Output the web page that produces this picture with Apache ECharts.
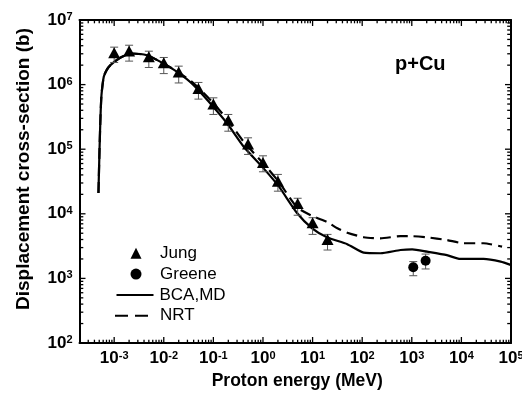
<!DOCTYPE html>
<html><head><meta charset="utf-8">
<script src="https://cdn.jsdelivr.net/npm/echarts@6/dist/echarts.min.js"></script>
<style>html,body{margin:0;padding:0;background:#fff}#c{width:522px;height:404px}</style>
</head><body><div id="c"></div>
<script>
// Jung (triangles) with error bars
const jungE  = [1e-3, 2e-3, 5e-3, 1e-2, 2e-2, 5e-2, 0.1, 0.2, 0.5, 1, 2, 5, 10, 20];
const jungY  = [3.1e6, 3.3e6, 2.7e6, 2.17e6, 1.57e6, 8.7e5, 5.0e5, 2.8e5, 1.2e5, 6.25e4, 3.2e4, 1.45e4, 7.3e3, 4.0e3];
const jungHi = [3.8e6, 4.07e6, 3.29e6, 2.63e6, 1.93e6, 1.08e6, 6.24e5, 3.45e5, 1.5e5, 7.9e4, 4.07e4, 1.74e4, 8.7e3, 4.8e3];
const jungLo = [2.2e6, 2.31e6, 1.84e6, 1.48e6, 1.06e6, 5.96e5, 3.45e5, 1.9e5, 8.3e4, 4.47e4, 2.24e4, 9.5e3, 4.8e3, 2.75e3];
// Greene (circles) with error bars
const greeneE  = [1.07e3, 1.9e3];
const greeneY  = [1.49e3, 1.88e3];
const greeneHi = [1.82e3, 2.38e3];
const greeneLo = [1.1e3, 1.4e3];
// BCA,MD (solid line)
const bcaE = [4.82e-4, 5.06e-4, 5.3e-4, 5.55e-4, 6.17e-4, 7.0e-4, 8.4e-4, 1.35e-3, 2.3e-3, 4.6e-3, 8.6e-3, 1.86e-2, 4.0e-2, 8.7e-2, 0.19, 0.41, 1.04, 2.1, 4.9, 9.8, 19.5, 50, 107, 234, 589, 1.02e3, 2.04e3, 5.1e3, 9.5e3, 2.8e4, 6.2e4, 9.8e4];
const bcaY = [2.1e4, 9.5e4, 3.2e5, 6.9e5, 1.32e6, 1.66e6, 2.0e6, 2.63e6, 3.03e6, 2.85e6, 2.25e6, 1.57e6, 9.8e5, 5.1e5, 2.5e5, 1.09e5, 5.0e4, 2.63e4, 1.02e4, 5.96e3, 4.33e3, 3.39e3, 2.51e3, 2.45e3, 2.75e3, 2.82e3, 2.59e3, 2.29e3, 2.0e3, 2.0e3, 1.82e3, 1.62e3];
// NRT (dashed line)
const nrtE = [4.82e-4, 5.06e-4, 5.3e-4, 5.55e-4, 6.17e-4, 7.0e-4, 8.4e-4, 1.35e-3, 2.3e-3, 4.6e-3, 8.6e-3, 1.86e-2, 4.0e-2, 8.7e-2, 0.19, 0.41, 1.04, 2.1, 4.9, 10.7, 19.5, 31.6, 50, 107, 234, 589, 1.0e3, 2.0e3, 5.1e3, 1.1e4, 2.8e4, 6.6e4];
const nrtY = [2.1e4, 9.5e4, 3.2e5, 6.9e5, 1.32e6, 1.66e6, 2.0e6, 2.63e6, 3.03e6, 2.85e6, 2.25e6, 1.6e6, 1.05e6, 5.8e5, 2.9e5, 1.3e5, 5.9e4, 3.1e4, 1.25e4, 9.0e3, 7.5e3, 5.96e3, 5.1e3, 4.33e3, 4.17e3, 4.5e3, 4.5e3, 4.33e3, 3.93e3, 3.5e3, 3.5e3, 3.1e3];
// Axis range and tick labels
const xMin = 2e-4, xMax = 1e5, yMin = 1e2, yMax = 1e7;
const xMajor = [1e-3, 1e-2, 1e-1, 1, 1e1, 1e2, 1e3, 1e4, 1e5];
const yMajor = [1e2, 1e3, 1e4, 1e5, 1e6, 1e7];
const minorMult = [2, 3, 4, 5, 6, 7, 8, 9];

function minorTicks(lo, hi) {
  const out = [];
  for (let d = Math.floor(Math.log10(lo)); d < Math.ceil(Math.log10(hi)); d++) {
    minorMult.forEach(m => { const v = m * Math.pow(10, d); if (v > lo * 1.0001 && v < hi * 0.9999) out.push(v); });
  }
  return out;
}
const xMinor = minorTicks(xMin, xMax);
const yMinor = minorTicks(yMin, yMax);

const FONT = '"Liberation Sans", Arial, Helvetica, sans-serif';
const expFmt = v => '{b|10}{s|' + Math.round(Math.log10(v)) + '}';
const rich = {
  b: {fontSize: 17, lineHeight: 17, fontWeight: 'bold', fontFamily: FONT, color: '#000', padding: [3, 0, 0, 0], verticalAlign: 'bottom'},
  s: {fontSize: 11, lineHeight: 11, fontWeight: 'bold', fontFamily: FONT, color: '#000', verticalAlign: 'top'}
};
const line = {show: true, onZero: false, lineStyle: {color: '#000', width: 2}};

function xAx(pos, withLabel) {
  return {
    type: 'log', logBase: 10, min: xMin, max: xMax, position: pos,
    axisLine: line, splitLine: {show: false}, axisTick: {show: false},
    axisLabel: withLabel ? {show: true, margin: 7, formatter: expFmt, rich: rich, customValues: xMajor} : {show: false},
    name: withLabel ? 'Proton energy (MeV)' : '', nameLocation: 'middle', nameGap: 25,
    nameTextStyle: {fontSize: 17.5, fontWeight: 'bold', fontFamily: FONT, color: '#000', padding: [0, 0, 0, 4]}
  };
}
function yAx(pos, withLabel) {
  return {
    type: 'log', logBase: 10, min: yMin, max: yMax, position: pos,
    axisLine: line, splitLine: {show: false}, axisTick: {show: false},
    axisLabel: withLabel ? {show: true, margin: 7, formatter: expFmt, rich: rich, customValues: yMajor} : {show: false},
    name: withLabel ? 'Displacement cross-section (b)' : '', nameLocation: 'middle', nameGap: 46,
    nameTextStyle: {fontSize: 19, fontWeight: 'bold', fontFamily: FONT, color: '#000', padding: [0, 0, 0, 25]}
  };
}

// ticks on all four sides, pointing inward, positioned through the axes' own scales
// data: [x value, y value, length, side(0 = x-axis tick, 1 = y-axis tick)]
function renderTick(params, api) {
  const side = api.value(3);
  const len = api.value(2);
  const lo = api.coord([xMin, yMin]);
  const hi = api.coord([xMax, yMax]);
  const p = api.coord([api.value(0), api.value(1)]);
  let a, b;
  if (side === 0) {
    a = {x1: p[0], y1: lo[1], x2: p[0], y2: lo[1] - len};
    b = {x1: p[0], y1: hi[1], x2: p[0], y2: hi[1] + len};
  } else {
    a = {x1: lo[0], y1: p[1], x2: lo[0] + len, y2: p[1]};
    b = {x1: hi[0], y1: p[1], x2: hi[0] - len, y2: p[1]};
  }
  return {type: 'group', children: [
    {type: 'line', shape: a, style: {stroke: '#000', lineWidth: 1.3}},
    {type: 'line', shape: b, style: {stroke: '#000', lineWidth: 1.3}}
  ]};
}
const tickData = []
  .concat(xMajor.map(v => [v, yMin, 6, 0]))
  .concat(xMinor.map(v => [v, yMin, 3.3, 0]))
  .concat(yMajor.map(v => [xMin, v, 6, 1]))
  .concat(yMinor.map(v => [xMin, v, 3.8, 1]));

function errBars(E, Lo, Hi) { return E.map((e, i) => [e, Lo[i], Hi[i]]); }
function renderErr(params, api) {
  const x = api.value(0);
  const p1 = api.coord([x, api.value(1)]);
  const p2 = api.coord([x, api.value(2)]);
  const w = 4;
  const st = {stroke: '#555', lineWidth: 1};
  return {type: 'group', children: [
    {type: 'line', shape: {x1: p1[0], y1: p1[1], x2: p2[0], y2: p2[1]}, style: st},
    {type: 'line', shape: {x1: p1[0] - w, y1: p1[1], x2: p1[0] + w, y2: p1[1]}, style: st},
    {type: 'line', shape: {x1: p2[0] - w, y1: p2[1], x2: p2[0] + w, y2: p2[1]}, style: st}
  ]};
}

const legendText = {fontSize: 17, fontFamily: FONT, color: '#000'};
const chart = echarts.init(document.getElementById('c'), null, {renderer: 'canvas'});
chart.setOption({
  animation: false,
  backgroundColor: '#fff',
  textStyle: {fontFamily: FONT},
  grid: {left: 79.5, right: 11, top: 20, bottom: 61, containLabel: false, outerBoundsMode: 'none'},
  xAxis: [xAx('bottom', true), xAx('top', false)],
  yAxis: [yAx('left', true), yAx('right', false)],
  legend: [
    {orient: 'vertical', left: 125.5, top: 239.8, itemWidth: 11, itemHeight: 11, itemGap: 3.8, selectedMode: false,
     textStyle: Object.assign({padding: [0, 0, 0, 13.5]}, legendText),
     data: [{name: 'Jung', icon: 'triangle'}, {name: 'Greene', icon: 'circle'}]},
    {orient: 'vertical', left: 111.5, top: 281.5, itemWidth: 37, itemHeight: 2, selectedMode: false, symbolKeepAspect: false,
     textStyle: Object.assign({padding: [0, 0, 0, 1]}, legendText),
     data: [{name: 'BCA,MD', icon: 'path://M0 0H37V2H0Z'}]},
    {orient: 'vertical', left: 110, top: 302.2, itemWidth: 33, itemHeight: 2, selectedMode: false, symbolKeepAspect: false,
     textStyle: Object.assign({padding: [0, 0, 0, 7]}, legendText),
     data: [{name: 'NRT', icon: 'path://M0 0H13V2H0Z M20 0H33V2H20Z'}]}
  ],
  graphic: [{type: 'text', left: 395, top: 54, style: {text: 'p+Cu', font: 'bold 20px ' + FONT, fill: '#000'}}],
  series: [
    {name: 'NRT', type: 'line', data: nrtE.map((e, i) => [e, nrtY[i]]), showSymbol: false, symbol: 'none', smooth: 0.2,
     lineStyle: {color: '#000', width: 2.2, type: [11, 6]}, itemStyle: {color: '#000'}, z: 2},
    {name: 'BCA,MD', type: 'line', data: bcaE.map((e, i) => [e, bcaY[i]]), showSymbol: false, symbol: 'none', smooth: 0.2,
     lineStyle: {color: '#000', width: 2.2}, itemStyle: {color: '#000'}, z: 3},
    {name: 'JungErr', type: 'custom', renderItem: renderErr, data: errBars(jungE, jungLo, jungHi), z: 4},
    {name: 'GreeneErr', type: 'custom', renderItem: renderErr, data: errBars(greeneE, greeneLo, greeneHi), z: 4},
    {name: 'Jung', type: 'scatter', symbol: 'triangle', symbolSize: [12, 11], data: jungE.map((e, i) => [e, jungY[i]]),
     itemStyle: {color: '#000', opacity: 1}, z: 5},
    {name: 'Greene', type: 'scatter', symbol: 'circle', symbolSize: 10, data: greeneE.map((e, i) => [e, greeneY[i]]),
     itemStyle: {color: '#000', opacity: 1}, z: 5},
    {name: 'axisTicks', type: 'custom', renderItem: renderTick, data: tickData, z: 6}
  ]
});
</script></body></html>
